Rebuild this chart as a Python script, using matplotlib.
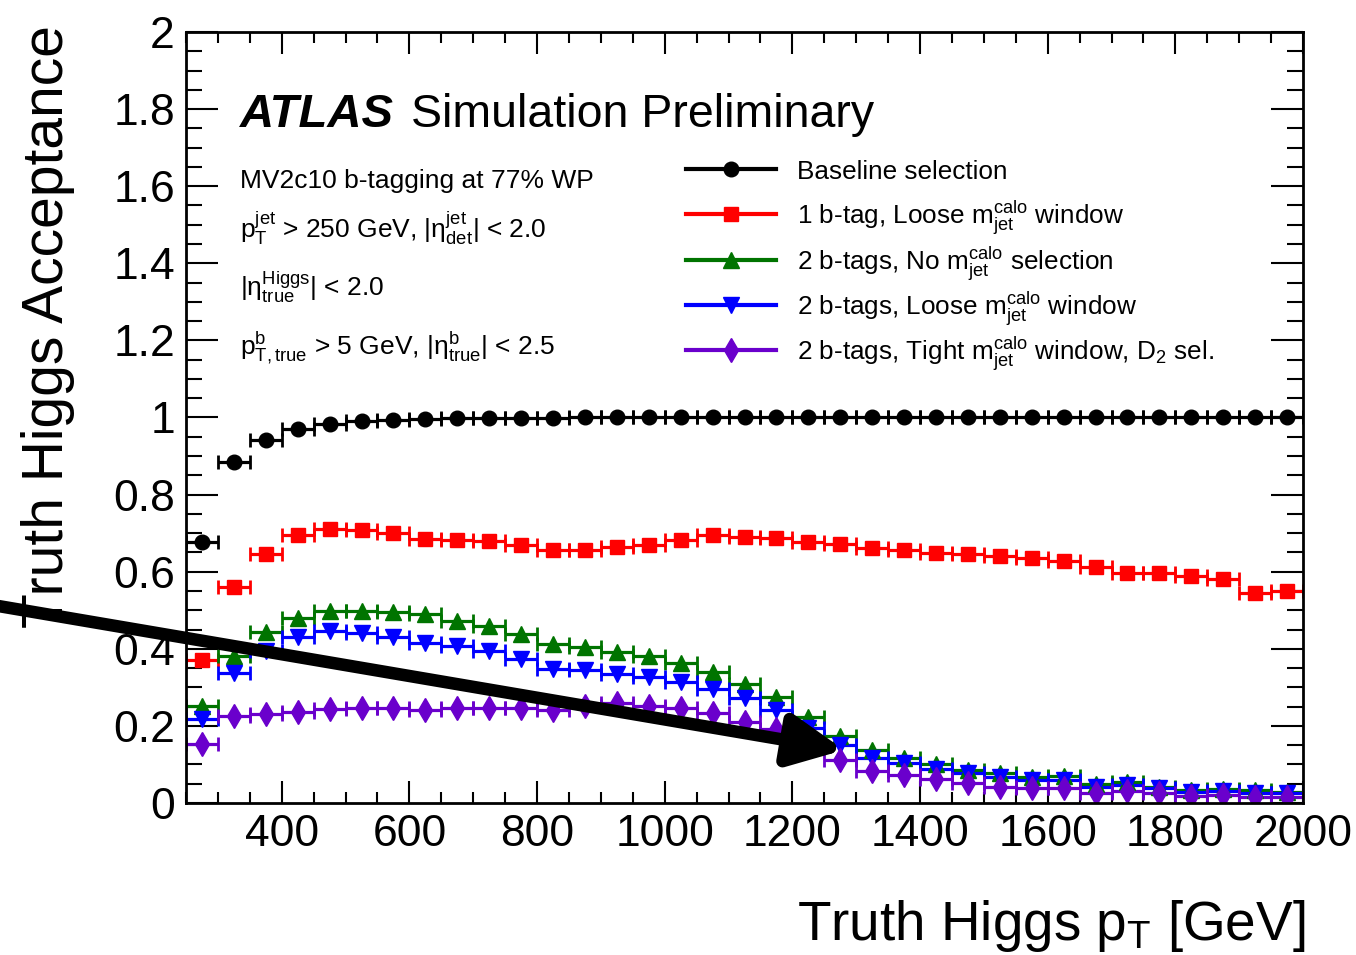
import numpy as np
import matplotlib
matplotlib.use('Agg')
import matplotlib.pyplot as plt
from matplotlib.lines import Line2D
from matplotlib.ticker import MultipleLocator, FuncFormatter

plt.rcParams['font.family'] = ['Liberation Sans', 'DejaVu Sans']
plt.rcParams['mathtext.fontset'] = 'custom'
plt.rcParams['mathtext.rm'] = 'Liberation Sans'
plt.rcParams['mathtext.it'] = 'Liberation Sans:italic'
plt.rcParams['mathtext.bf'] = 'Liberation Sans:bold'

# truth Higgs pT bin centres [GeV] (50 GeV bins, 250 -> 2000)
pt_centres = [275, 325, 375, 425, 475, 525, 575, 625, 675, 725, 775, 825,
              875, 925, 975, 1025, 1075, 1125, 1175, 1225, 1275, 1325, 1375,
              1425, 1475, 1525, 1575, 1625, 1675, 1725, 1775, 1825, 1875,
              1925, 1975]
half_bin = 25

baseline = [0.678, 0.885, 0.942, 0.969, 0.983, 0.991, 0.994, 0.996, 0.998,
            0.999, 0.999, 0.999, 1.0, 1.0, 1.0, 1.0, 1.0, 1.0, 1.0, 1.0,
            1.0, 1.0, 1.0, 1.0, 1.0, 1.0, 1.0, 1.0, 1.0, 1.0, 1.0, 1.0,
            1.0, 1.0, 1.0]
one_tag_loose = [0.371, 0.561, 0.646, 0.695, 0.710, 0.708, 0.701, 0.685,
                 0.682, 0.680, 0.669, 0.655, 0.655, 0.663, 0.668, 0.682,
                 0.696, 0.691, 0.687, 0.678, 0.672, 0.661, 0.655, 0.649,
                 0.646, 0.641, 0.635, 0.629, 0.613, 0.597, 0.597, 0.589,
                 0.580, 0.546, 0.551]
two_tag_nomass = [0.252, 0.381, 0.443, 0.481, 0.499, 0.499, 0.495, 0.489,
                  0.473, 0.460, 0.438, 0.412, 0.405, 0.392, 0.381, 0.364,
                  0.339, 0.308, 0.276, 0.224, 0.174, 0.137, 0.118, 0.100,
                  0.086, 0.077, 0.068, 0.069, 0.049, 0.054, 0.042, 0.035,
                  0.037, 0.034, 0.029]
two_tag_loose = [0.217, 0.338, 0.395, 0.431, 0.447, 0.440, 0.431, 0.416,
                 0.407, 0.395, 0.374, 0.347, 0.345, 0.334, 0.328, 0.315,
                 0.297, 0.272, 0.241, 0.194, 0.150, 0.118, 0.103, 0.087,
                 0.077, 0.068, 0.060, 0.060, 0.042, 0.047, 0.038, 0.029,
                 0.031, 0.025, 0.025]
two_tag_tight = [0.153, 0.226, 0.230, 0.235, 0.244, 0.246, 0.246, 0.241,
                 0.247, 0.246, 0.246, 0.241, 0.252, 0.259, 0.252, 0.246,
                 0.233, 0.211, 0.192, 0.152, 0.112, 0.084, 0.073, 0.061,
                 0.051, 0.042, 0.038, 0.038, 0.025, 0.032, 0.025, 0.018,
                 0.020, 0.016, 0.016]

series = [baseline, one_tag_loose, two_tag_nomass, two_tag_loose, two_tag_tight]
labels = [
    'Baseline selection',
    r'1 b-tag, Loose $\mathregular{m^{calo}_{jet}}$ window',
    r'2 b-tags, No $\mathregular{m^{calo}_{jet}}$ selection',
    r'2 b-tags, Loose $\mathregular{m^{calo}_{jet}}$ window',
    r'2 b-tags, Tight $\mathregular{m^{calo}_{jet}}$ window, $\mathregular{D_{2}}$ sel.',
]
colors = ['black', '#ff0000', '#007400', '#0000ff', '#6a00cc']
markers = ['o', 's', '^', 'v', 'd']
msizes = [10.5, 10, 11.5, 11.5, 12.5]

W, H = 1356, 955


def fig_xy(x, y):
    # pixel position in the reference -> figure fraction
    return x / W, 1 - y / H


fig = plt.figure(figsize=(W / 100, H / 100), dpi=100)
ax = fig.add_axes([186 / W, 1 - 803 / H, (1303 - 186) / W, (803 - 32) / H])

for vals, col, mk, ms in zip(series, colors, markers, msizes):
    ax.errorbar(pt_centres, vals, xerr=half_bin, fmt=mk, color=col, ms=ms,
                elinewidth=2.3, capsize=5, capthick=2, linestyle='none')

ax.set_xlim(250, 2000)
ax.set_ylim(0, 2)
ax.xaxis.set_major_locator(MultipleLocator(200))
ax.xaxis.set_minor_locator(MultipleLocator(50))
ax.yaxis.set_major_locator(MultipleLocator(0.2))
ax.yaxis.set_minor_locator(MultipleLocator(0.05))
ax.yaxis.set_major_formatter(FuncFormatter(lambda v, p: f'{v:g}'))
ax.tick_params(which='both', direction='in', top=True, right=True,
               labelsize=32, width=1.5)
ax.tick_params(axis='x', which='major', length=16, pad=8)
ax.tick_params(axis='x', which='minor', length=8)
ax.tick_params(axis='y', which='major', length=23, pad=8)
ax.tick_params(axis='y', which='minor', length=11.5)
for sp in ax.spines.values():
    sp.set_linewidth(2)

# axis titles, ROOT style (aligned to the end of the axes)
fig.text(*fig_xy(1305, 940), r'Truth Higgs $\mathregular{p_{T}}$ [GeV]',
         ha='right', va='baseline', fontsize=39.5)
fig.text(*fig_xy(48, 25), 'Truth Higgs Acceptance', rotation=90,
         ha='center', va='top', fontsize=41)

# ATLAS label
fig.text(*fig_xy(240, 127), 'ATLAS', fontsize=34, fontweight='bold',
         fontstyle='italic', va='baseline')
fig.text(*fig_xy(411, 127), 'Simulation Preliminary', fontsize=33.5,
         va='baseline')

# selection text
sel_text = [
    ('MV2c10 b-tagging at 77% WP', 188),
    (r'$\mathregular{p_{T}^{jet}}$ > 250 GeV, $\mathregular{|η^{jet}_{det}|}$ < 2.0', 238),
    (r'$\mathregular{|η^{Higgs}_{true}|}$ < 2.0', 296),
    (r'$\mathregular{p^{b}_{T,true}}$ > 5 GeV, $\mathregular{|η^{b}_{true}|}$ < 2.5', 355),
]
for txt, yb in sel_text:
    fig.text(*fig_xy(240, yb), txt, fontsize=19, va='baseline')

# legend drawn by hand
row_y = [169, 214, 260, 305, 350]
for lab, col, mk, ms, yr in zip(labels, colors, markers, msizes, row_y):
    x0, y0 = fig_xy(686, yr)
    x1, _ = fig_xy(776, yr)
    xm, _ = fig_xy(731, yr)
    fig.add_artist(Line2D([x0, x1], [y0, y0], color=col, lw=3,
                          transform=fig.transFigure))
    fig.add_artist(Line2D([xm], [y0], color=col, marker=mk, ms=ms,
                          transform=fig.transFigure))
    fig.text(*fig_xy(797, yr + 10), lab, fontsize=18.8, va='baseline')

# black arrow overlaid on the plot
ax.annotate('', xy=(1281, 0.1375), xytext=(-44, 0.511), xycoords='data',
            textcoords='data', annotation_clip=False,
            arrowprops=dict(arrowstyle='-|>,head_length=1.6,head_width=0.77',
                            mutation_scale=20, lw=9, color='black',
                            shrinkA=0, shrinkB=0),
            zorder=10)

fig.savefig('out.png', dpi=100)
